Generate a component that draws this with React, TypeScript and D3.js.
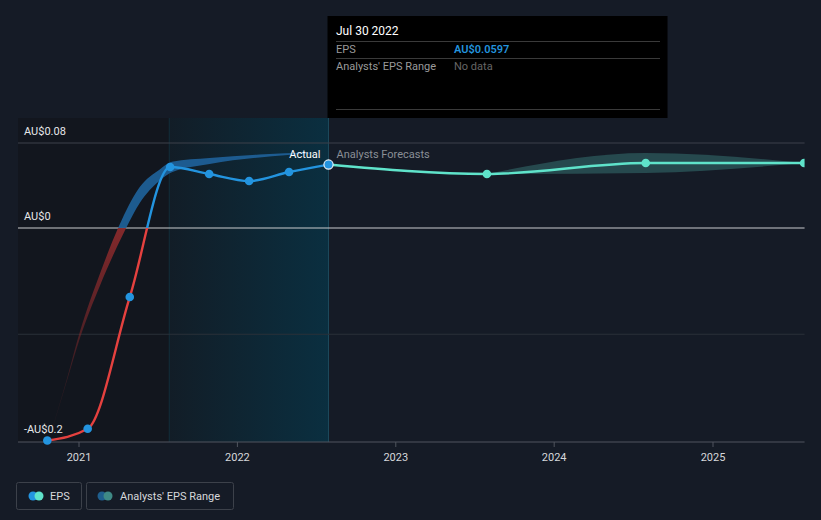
import React from "react";
import * as d3 from "d3";

const W = 821;
const H = 520;

// Actual EPS (reported)
const actualDates = ["2020-10-20", "2021-01-21", "2021-04-28", "2021-07-30", "2021-10-28", "2022-01-28", "2022-04-30", "2022-07-30"];
const actualEps = [-0.2, -0.189, -0.065, 0.0574, 0.0508, 0.0442, 0.0527, 0.0597];

// Forecast EPS
const forecastDates = ["2022-07-30", "2023-07-30", "2024-07-30", "2025-07-30"];
const forecastEps = [0.0597, 0.0508, 0.0612, 0.0612];

// Forecast analyst range
const rangeDates = ["2023-07-30", "2024-07-30", "2025-07-30"];
const rangeLow = [0.0508, 0.0518, 0.0612];
const rangeHigh = [0.0508, 0.0706, 0.0612];

// Past analyst estimate range
const pastRangeDates = ["2020-10-25", "2020-12-04", "2021-01-03", "2021-02-18", "2021-04-10", "2021-05-21", "2021-07-06", "2021-08-03", "2021-10-29", "2022-02-21", "2022-06-17"];
const pastRangeLow = [-0.1981, -0.1441, -0.1037, -0.0545, -0.008, 0.0235, 0.0447, 0.0525, 0.0603, 0.0664, 0.0701];
const pastRangeHigh = [-0.1971, -0.1421, -0.0977, -0.0433, 0.008, 0.0385, 0.0551, 0.0623, 0.0659, 0.0692, 0.0711];

const yTicks = [0.08, 0, -0.2];
const yTickLabels = ["AU$0.08", "AU$0", "-AU$0.2"];
const gridValues = [0.08, -0.1];
const xTickYears = ["2021", "2022", "2023", "2024", "2025"];

const pastStart = "2020-05-10";
const actualStart = "2021-07-28";
const todayDate = "2022-07-30";
const plotEnd = "2025-07-31";

const tooltipTitle = "Jul 30 2022";
const tooltipEps = "AU$0.0597";

const FONT = "Roboto, 'Open Sans', sans-serif";

export default function App() {
  const p = (s: string) => new Date(s + "T00:00:00");
  const x = d3.scaleTime().domain([p("2021-01-01"), p("2025-01-01")]).range([79, 713]);
  const y = d3.scaleLinear().domain([-0.2, 0.08]).range([440.5, 143]);

  const right = x(p(plotEnd));
  const x0 = x(p(actualStart));
  const xt = x(p(todayDate));
  const y0 = y(0);
  const yBottom = 442;

  const act = actualDates.map((d, i) => ({ d: p(d), v: actualEps[i] }));
  const fc = forecastDates.map((d, i) => ({ d: p(d), v: forecastEps[i] }));
  const rng = rangeDates.map((d, i) => ({ d: p(d), lo: rangeLow[i], hi: rangeHigh[i] }));
  const past = pastRangeDates.map((d, i) => ({ d: p(d), lo: pastRangeLow[i], hi: pastRangeHigh[i] }));

  const line = d3
    .line<{ d: Date; v: number }>()
    .x((e) => x(e.d))
    .y((e) => y(e.v))
    .curve(d3.curveMonotoneX);
  const area = d3
    .area<{ d: Date; lo: number; hi: number }>()
    .x((e) => x(e.d))
    .y0((e) => y(e.lo))
    .y1((e) => y(e.hi))
    .curve(d3.curveMonotoneX);

  const actPath = line(act) || "";
  const fcPath = line(fc) || "";
  const rngPath = area(rng) || "";
  const pastPath = area(past) || "";

  return (
    <svg width={W} height={H} style={{ position: "fixed", left: 0, top: 0, display: "block" }} fontFamily={FONT}>
      <defs>
        <linearGradient id="hl" x1="0" x2="1" y1="0" y2="0">
          <stop offset="0" stopColor="#121d27" />
          <stop offset="1" stopColor="#0a2f40" />
        </linearGradient>
        <linearGradient id="redfade" gradientUnits="userSpaceOnUse" x1="0" x2="0" y1={y0} y2={yBottom}>
          <stop offset="0" stopColor="#8a2a2c" stopOpacity="0.95" />
          <stop offset="1" stopColor="#8a2a2c" stopOpacity="0.05" />
        </linearGradient>
        <clipPath id="above">
          <rect x={0} y={0} width={W} height={y0} />
        </clipPath>
        <clipPath id="below">
          <rect x={0} y={y0} width={W} height={H - y0} />
        </clipPath>
        <clipPath id="plot">
          <rect x={0} y={0} width={right} height={H} />
        </clipPath>
      </defs>

      <rect x={0} y={0} width={W} height={H} fill="#151b26" />
      <rect x={18} y={118} width={x0 - 18} height={yBottom - 118} fill="#12161e" />
      <rect x={x0} y={118} width={xt - x0} height={yBottom - 118} fill="url(#hl)" />
      <line x1={x0} x2={x0} y1={118} y2={yBottom} stroke="#122c3a" strokeWidth={1} />
      <line x1={xt} x2={xt} y1={118} y2={yBottom} stroke="#1d4a5c" strokeWidth={1} />

      {gridValues.map((v) => (
        <line key={v} x1={18} x2={right} y1={y(v)} y2={y(v)} stroke={v === 0.08 ? "#3c414b" : "#2a3039"} strokeWidth={1} />
      ))}
      <line x1={18} x2={right} y1={y0} y2={y0} stroke="#c9cbce" strokeWidth={1.2} />
      <line x1={18} x2={right} y1={yBottom} y2={yBottom} stroke="#50555e" strokeWidth={1} />
      {xTickYears.map((t) => (
        <g key={t}>
          <line x1={x(p(t + "-01-01"))} x2={x(p(t + "-01-01"))} y1={yBottom} y2={yBottom + 5} stroke="#50555e" />
          <text x={x(p(t + "-01-01"))} y={461} textAnchor="middle" fontSize={11} fill="#d6d8db">
            {t}
          </text>
        </g>
      ))}
      {yTicks.map((v, i) => (
        <text key={v} x={24} y={y(v) - 8} fontSize={11} fill="#e6e7e9">
          {yTickLabels[i]}
        </text>
      ))}

      {/* past analyst range */}
      <path d={pastPath} fill="#1f5f96" opacity={0.95} clipPath="url(#above)" />
      <path d={pastPath} fill="url(#redfade)" clipPath="url(#below)" />

      {/* forecast range */}
      <g clipPath="url(#plot)">
        <path d={rngPath} fill="#3f8a86" opacity={0.42} />
      </g>

      {/* actual line */}
      <path d={actPath} fill="none" stroke="#e5413f" strokeWidth={2.4} clipPath="url(#below)" />
      <path d={actPath} fill="none" stroke="#2394df" strokeWidth={2.4} clipPath="url(#above)" />

      <g clipPath="url(#plot)">
        <path d={fcPath} fill="none" stroke="#5fe3ca" strokeWidth={2.4} />
        {fc.slice(1).map((e, i) => (
          <circle key={i} cx={x(e.d)} cy={y(e.v)} r={4.3} fill="#5fe3ca" />
        ))}
      </g>

      {act.map((e, i) =>
        i === act.length - 1 ? (
          <circle key={i} cx={x(e.d)} cy={y(e.v)} r={4.6} fill="#2394df" stroke="#e8f1f8" strokeWidth={1.2} />
        ) : (
          <circle key={i} cx={x(e.d)} cy={y(e.v)} r={4.3} fill="#2394df" />
        )
      )}

      <text x={xt - 8} y={158} textAnchor="end" fontSize={11} fill="#ffffff">
        Actual
      </text>
      <text x={xt + 8} y={158} fontSize={11} fill="#8a8f96">
        Analysts Forecasts
      </text>

      {/* tooltip */}
      <rect x={xt - 1} y={16} width={340} height={102} fill="#000000" />
      <text x={336} y={35} fontSize={12} fill="#ffffff">
        {tooltipTitle}
      </text>
      <line x1={336} x2={660} y1={41.5} y2={41.5} stroke="#3a3a3a" />
      <text x={336} y={53} fontSize={11} fill="#9a9a9a">
        EPS
      </text>
      <text x={454} y={53} fontSize={11} fill="#2394df" fontWeight={600}>
        {tooltipEps}
      </text>
      <line x1={336} x2={660} y1={58.5} y2={58.5} stroke="#3a3a3a" />
      <text x={336} y={70} fontSize={11} fill="#9a9a9a">
        Analysts' EPS Range
      </text>
      <text x={454} y={70} fontSize={11} fill="#666666">
        No data
      </text>
      <line x1={336} x2={660} y1={109.5} y2={109.5} stroke="#3a3a3a" />

      {/* legend */}
      <rect x={16.5} y={482.5} width={65} height={27} rx={2} fill="none" stroke="#3c414a" />
      <circle cx={33} cy={496} r={4.5} fill="#2394df" />
      <circle cx={39} cy={496} r={4.5} fill="#5fe3ca" />
      <text x={50} y={500} fontSize={11} fill="#d6d8db">
        EPS
      </text>
      <rect x={86.5} y={482.5} width={147} height={27} rx={2} fill="none" stroke="#3c414a" />
      <circle cx={102} cy={496} r={4.5} fill="#1f5f8e" />
      <circle cx={108} cy={496} r={4.5} fill="#3f8a86" />
      <text x={120} y={500} fontSize={11} fill="#d6d8db">
        Analysts' EPS Range
      </text>
    </svg>
  );
}
